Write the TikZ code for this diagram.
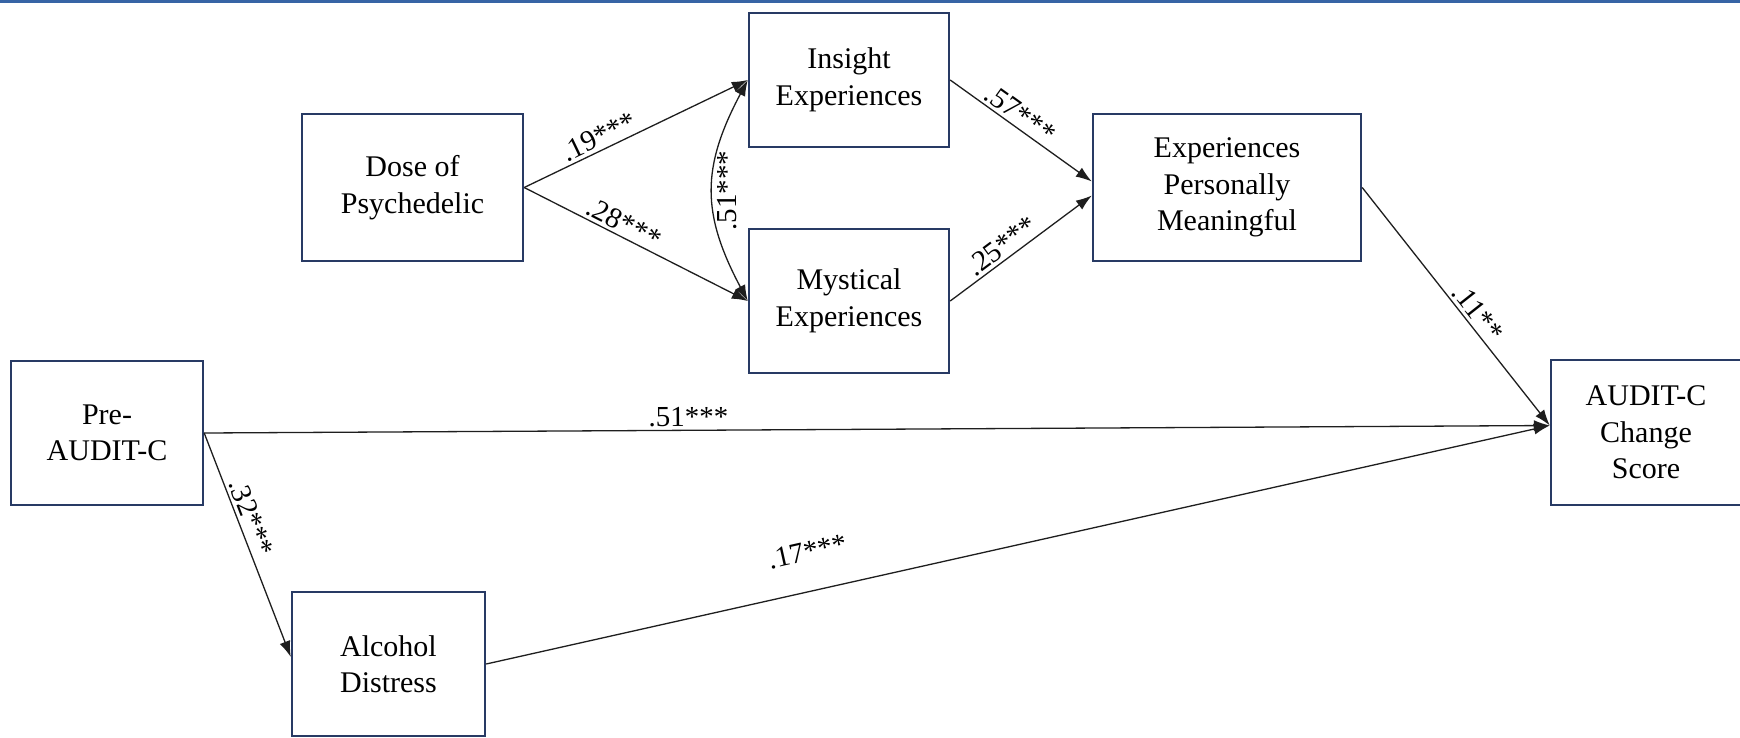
\documentclass[tikz,border=0pt]{standalone}
\usepackage{fontspec}
\setmainfont{Liberation Serif}
\newfontfamily\tnr{Liberation Serif}
\usetikzlibrary{arrows.meta}
\definecolor{boxc}{RGB}{40,58,100}
\definecolor{topc}{RGB}{55,100,165}
\definecolor{linec}{RGB}{30,30,30}
\begin{document}
\begin{tikzpicture}[x=1pt,y=-1pt,
  box/.style={draw=boxc, line width=2.4pt, fill=white, align=center, inner sep=0pt,
    font=\tnr\fontsize{30}{36.5}\selectfont},
  conn/.style={draw=linec, line width=1.3pt, -{Latex[length=16pt,width=11pt]}},
  lab/.style={font=\tnr\fontsize{29}{30}\selectfont, sloped, above, inner sep=3pt}]
\useasboundingbox (0,0) rectangle (1740,737);
\fill[white] (0,0) rectangle (1740,737);
\coordinate (tl) at (0,1.5);
\coordinate (tr) at (1740,1.5);
\draw[topc, line width=3pt] (tl) -- (tr);

\node[box, minimum width=221, minimum height=147] (dose) at (412.5,187.5) {Dose of\\Psychedelic};
\node[box, minimum width=200, minimum height=134] (ins) at (849,80) {Insight\\Experiences};
\node[box, minimum width=200, minimum height=144] (mys) at (849,301) {Mystical\\Experiences};
\node[box, minimum width=268, minimum height=147] (epm) at (1227,187.5) {Experiences\\Personally\\Meaningful};
\node[box, minimum width=192, minimum height=144] (pre) at (107,433) {Pre-\\AUDIT-C};
\node[box, minimum width=193, minimum height=144] (alc) at (388.5,664) {Alcohol\\Distress};
\node[box, minimum width=190, minimum height=145] (chg) at (1646,432.5) {AUDIT-C\\Change\\Score};

\coordinate (chgin) at ([yshift=7pt]chg.west);
\coordinate (epmin1) at ([yshift=6pt]epm.west);
\coordinate (epmin2) at ([yshift=-8pt]epm.west);
\coordinate (alcin) at ([yshift=7pt]alc.west);

\draw[conn] (dose.east) -- (ins.west) node[lab, pos=0.36] {.19***};
\draw[conn] (dose.east) -- (mys.west) node[lab, pos=0.42] {.28***};
\draw[draw=linec, line width=1.3pt, {Latex[length=16pt,width=11pt]}-{Latex[length=16pt,width=11pt]}]
  (mys.west) to[out=118, in=242, looseness=1.15]
  node[midway, sloped, below, font=\tnr\fontsize{29}{30}\selectfont, inner sep=4pt] {.51***} (ins.west);
\draw[conn] (ins.east) -- (epmin1) node[lab, pos=0.44] {.57***};
\draw[conn] (mys.east) -- (epmin2) node[lab, pos=0.42] {.25***};
\draw[conn] (epm.east) -- (chgin) node[lab, pos=0.56] {.11**};
\draw[conn] (pre.east) -- (chgin) node[lab, pos=0.36] {.51***};
\draw[conn] (pre.east) -- (alcin) node[lab, pos=0.4] {.32***};
\draw[conn] (alc.east) -- (chgin) node[lab, pos=0.31, above=26pt] {.17***};
\end{tikzpicture}
\end{document}
